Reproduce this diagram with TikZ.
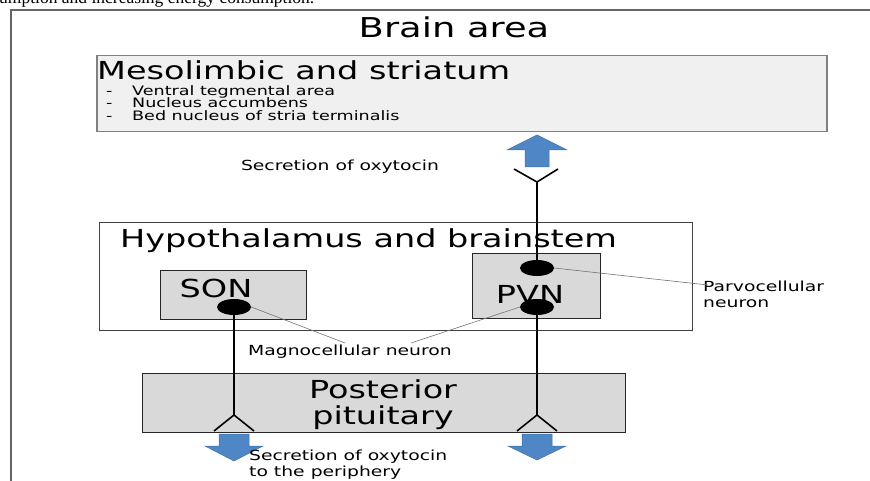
\documentclass[tikz,border=0pt]{standalone}
\usepackage{fontspec}
\setmainfont{Liberation Serif}
\newfontfamily\wf[FakeStretch=1.35]{DejaVu Sans}
\usetikzlibrary{shapes.geometric}
\definecolor{arrfill}{RGB}{79,134,198}
\definecolor{arrline}{RGB}{65,113,156}
\begin{document}
\begin{tikzpicture}[x=1pt,y=-1pt,
  frame/.style={draw=black!60, line width=1.5pt},
  lightbox/.style={draw=black!50, fill=black!6, line width=1.5pt, inner sep=0pt},
  graybox/.style={draw=black!85, fill=black!15, line width=1.2pt, inner sep=0pt},
  whitebox/.style={draw=black!75, fill=white, line width=1pt, inner sep=0pt},
  dot/.style={ellipse, fill=black, minimum width=34pt, minimum height=16pt, inner sep=0pt},
  axon/.style={line width=1.6pt, draw=black},
  leader/.style={draw=black!55, line width=0.6pt},
  blockarrow/.style={fill=arrfill, draw=arrline, line width=0.5pt},
  big/.style={font=\wf\fontsize{24.8pt}{26pt}\selectfont, inner sep=0pt},
  small/.style={font=\wf\fontsize{13.9pt}{16pt}\selectfont, inner sep=0pt},
  item/.style={font=\wf\fontsize{13pt}{13pt}\selectfont, inner sep=0pt, anchor=base west},
]
\useasboundingbox (0,0) rectangle (870,481);
\begin{scope}
  \clip (0,0) rectangle (870,481);
  \node[anchor=base west, font=\fontsize{17.5pt}{19pt}\selectfont, inner sep=0pt] (cut) at (-1,4) {umption and increasing energy consumption.};
\end{scope}
% outer frame
\draw[frame] (11,481) -- (11,10) -- (870,10);
\node[font=\wf\fontsize{27.3pt}{30pt}\selectfont, inner sep=0pt] (brain) at (454,27) {Brain area};
% mesolimbic
\node[lightbox, anchor=north west, minimum width=730pt, minimum height=76pt] (meso) at (96,55) {};
\node[big, anchor=base west] (mesot) at (97,80) {Mesolimbic and striatum};
\node[item] (d1) at (106,95.5) {-};
\node[item] (i1) at (132,95.5) {Ventral tegmental area};
\node[item] (d2) at (106,108) {-};
\node[item] (i2) at (132,108) {Nucleus accumbens};
\node[item] (d3) at (106,120.5) {-};
\node[item] (i3) at (132,120.5) {Bed nucleus of stria terminalis};
% secretion top
\node[small] (sec1) at (340,167) {Secretion of oxytocin};
\draw[blockarrow] (525,167) -- (525,150) -- (507,150) -- (537,135) -- (567,150) -- (549,150) -- (549,167) -- cycle;
\draw[axon] (514,169) -- (537,182) -- (558,169);
\coordinate (vtop) at (537,182);
% hypothalamus
\node[whitebox, anchor=north west, minimum width=593pt, minimum height=108pt] (hypo) at (99,222) {};
\node[big, anchor=west] (hypot) at (120,241) {Hypothalamus and brainstem};
\node[graybox, anchor=north west, minimum width=146pt, minimum height=49pt] (son) at (160,270) {};
\node[big] (sont) at (216,288) {SON};
\node[graybox, anchor=north west, minimum width=128pt, minimum height=65pt] (pvn) at (472,253) {};
\node[big] (pvnt) at (530,294) {PVN};
\node[dot] (sondot) at (234,307) {};
\node[dot] (pvnup) at (537,268) {};
\node[dot] (pvnlow) at (537,307) {};
\draw[axon] (vtop) -- (pvnup.center);
% posterior pituitary
\node[graybox, anchor=north west, minimum width=483pt, minimum height=59pt] (post) at (142,373) {};
\node[big, align=center] (postt) at (383,405) {Posterior\\pituitary};
\coordinate (vl) at (234,415);
\coordinate (vr) at (537,415);
\draw[axon] (sondot.center) -- (vl);
\draw[axon] (pvnlow.center) -- (vr);
\draw[axon] (214,431) -- (vl) -- (254,431);
\draw[axon] (517,431) -- (vr) -- (557,431);
\draw[blockarrow] (219,434) -- (219,446) -- (205,446) -- (234,461) -- (263,446) -- (249,446) -- (249,434) -- cycle;
\draw[blockarrow] (522,434) -- (522,446) -- (508,446) -- (537,460) -- (566,446) -- (552,446) -- (552,434) -- cycle;
% labels
\node[small] (magno) at (350,352) {Magnocellular neuron};
\coordinate (m1) at (345,343);
\coordinate (m2) at (411,343);
\draw[leader] (sondot.east) -- (m1);
\draw[leader] (pvnlow.west) -- (m2);
\node[small, anchor=north west, align=left] (parvo) at (703,281) {Parvocellular\\neuron};
\coordinate (p1) at (708,285);
\draw[leader] (pvnup.east) -- (p1);
\node[small, anchor=north west, align=left] (sec2) at (249,450) {Secretion of oxytocin\\to the periphery};
\end{tikzpicture}
\end{document}
